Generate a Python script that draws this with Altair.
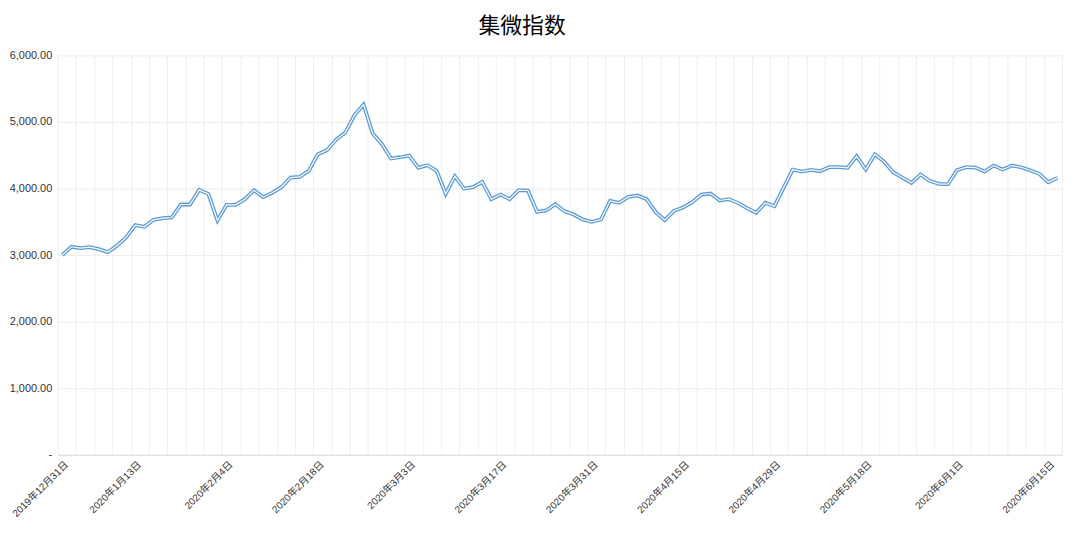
import json
import altair as alt
import pandas as pd

# Trading days shown on the chart (category axis)
dates = [
    "2019-12-31",
    "2020-01-02", "2020-01-03", "2020-01-06", "2020-01-07", "2020-01-08", "2020-01-09", "2020-01-10",
    "2020-01-13", "2020-01-14", "2020-01-15", "2020-01-16", "2020-01-17",
    "2020-01-20", "2020-01-21", "2020-01-22", "2020-01-23",
    "2020-02-03", "2020-02-04", "2020-02-05", "2020-02-06", "2020-02-07",
    "2020-02-10", "2020-02-11", "2020-02-12", "2020-02-13", "2020-02-14",
    "2020-02-17", "2020-02-18", "2020-02-19", "2020-02-20", "2020-02-21",
    "2020-02-24", "2020-02-25", "2020-02-26", "2020-02-27", "2020-02-28",
    "2020-03-02", "2020-03-03", "2020-03-04", "2020-03-05", "2020-03-06",
    "2020-03-09", "2020-03-10", "2020-03-11", "2020-03-12", "2020-03-13",
    "2020-03-16", "2020-03-17", "2020-03-18", "2020-03-19", "2020-03-20",
    "2020-03-23", "2020-03-24", "2020-03-25", "2020-03-26", "2020-03-27",
    "2020-03-30", "2020-03-31",
    "2020-04-01", "2020-04-02", "2020-04-03",
    "2020-04-07", "2020-04-08", "2020-04-09", "2020-04-10",
    "2020-04-13", "2020-04-14", "2020-04-15", "2020-04-16", "2020-04-17",
    "2020-04-20", "2020-04-21", "2020-04-22", "2020-04-23", "2020-04-24",
    "2020-04-27", "2020-04-28", "2020-04-29", "2020-04-30",
    "2020-05-06", "2020-05-07", "2020-05-08",
    "2020-05-11", "2020-05-12", "2020-05-13", "2020-05-14", "2020-05-15",
    "2020-05-18", "2020-05-19", "2020-05-20", "2020-05-21", "2020-05-22",
    "2020-05-25", "2020-05-26", "2020-05-27", "2020-05-28", "2020-05-29",
    "2020-06-01", "2020-06-02", "2020-06-03", "2020-06-04", "2020-06-05",
    "2020-06-08", "2020-06-09", "2020-06-10", "2020-06-11", "2020-06-12",
    "2020-06-15", "2020-06-16",
]

# Index values
values = [
    3000, 3125, 3105, 3120, 3090, 3045, 3140, 3265, 3450, 3425,
    3530, 3555, 3565, 3760, 3760, 3980, 3920, 3520, 3755, 3755,
    3840, 3975, 3870, 3935, 4020, 4165, 4175, 4265, 4515, 4575,
    4735, 4840, 5100, 5260, 4825, 4670, 4450, 4470, 4495, 4310,
    4350, 4265, 3920, 4185, 4000, 4020, 4100, 3840, 3910, 3840,
    3975, 3970, 3650, 3670, 3765, 3660, 3610, 3535, 3500, 3535,
    3815, 3785, 3875, 3895, 3840, 3645, 3525, 3665, 3715, 3795,
    3910, 3925, 3820, 3840, 3785, 3705, 3635, 3785, 3735, 4010,
    4285, 4255, 4280, 4260, 4320, 4320, 4310, 4485, 4285, 4515,
    4405, 4245, 4165, 4085, 4210, 4115, 4070, 4065, 4275, 4320,
    4315, 4255, 4345, 4285, 4345, 4320, 4275, 4220, 4095, 4160,
]

# Dates whose labels are shown on the x axis
label_dates = [
    "2019-12-31", "2020-01-13", "2020-02-04", "2020-02-18", "2020-03-03", "2020-03-17",
    "2020-03-31", "2020-04-15", "2020-04-29", "2020-05-18", "2020-06-01", "2020-06-15",
]

y_ticks = [0, 1000, 2000, 3000, 4000, 5000, 6000]


def cn_label(d):
    y, m, dd = d.split("-")
    return f"{y}年{int(m)}月{int(dd)}日"


df = pd.DataFrame({"i": list(range(len(dates))), "date": dates, "value": values})
all_labels = [cn_label(d) for d in dates]
label_idx = [dates.index(d) for d in label_dates]
# vertical grid lines sit on category boundaries, every second category
grid_pos = [k - 0.5 for k in range(0, len(dates) + 1, 2)]

FONT = "Liberation Sans, Noto Sans CJK SC, sans-serif"

xscale = alt.Scale(domain=[-0.5, len(dates) - 0.5], nice=False, zero=False)
yscale = alt.Scale(domain=[0, 6000], nice=False, zero=True)

y_axis = alt.Axis(
    values=y_ticks,
    labelExpr="datum.value == 0 ? '-' : format(datum.value, ',.2f')",
    grid=True, gridColor="#ececec", gridWidth=1,
    ticks=False, domain=False, title=None,
    labelFont=FONT, labelFontSize=11, labelColor="#333333", labelPadding=6,
)

base = alt.Chart(df)

outer = base.mark_line(stroke="#5b9bd5", strokeWidth=3.8).encode(
    x=alt.X("i:Q", scale=xscale, axis=alt.Axis(
        values=grid_pos, grid=True, gridColor="#efefef", gridWidth=1,
        labels=False, ticks=False, domain=False, title=None, orient="bottom",
    )),
    y=alt.Y("value:Q", scale=yscale, axis=y_axis),
)

inner = base.mark_line(stroke="#ffffff", strokeWidth=1.2).encode(
    x=alt.X("i:Q", scale=xscale, axis=alt.Axis(
        values=label_idx,
        labelExpr=json.dumps(all_labels, ensure_ascii=False) + "[datum.value]",
        grid=False, ticks=False, domain=True, domainColor="#dddddd", domainWidth=1,
        title=None, orient="bottom",
        labelAngle=-45, labelAlign="right", labelBaseline="middle",
        labelPadding=8, labelOffset=4,
        labelFont=FONT, labelFontSize=10, labelColor="#333333",
        labelOverlap=False, labelFlush=False, labelBound=False,
    )),
    y=alt.Y("value:Q", scale=yscale, axis=y_axis),
)

chart = (
    alt.layer(outer, inner)
    .resolve_scale(x="shared", y="shared")
    .resolve_axis(x="independent", y="shared")
    .properties(
        width=1011,
        height=402,
        autosize=alt.AutoSizeParams(type="none"),
        padding={"left": 50, "top": 46, "right": 10, "bottom": 70},
        title=alt.TitleParams(
            "集微指数", font="Noto Sans CJK SC", fontSize=22, fontWeight="normal",
            color="#000000", anchor="middle", offset=12, dx=-38,
        ),
        background="#ffffff",
    )
    .configure_view(stroke=None)
)

chart.save("out.html", embed_options={"renderer": "svg", "actions": False})
